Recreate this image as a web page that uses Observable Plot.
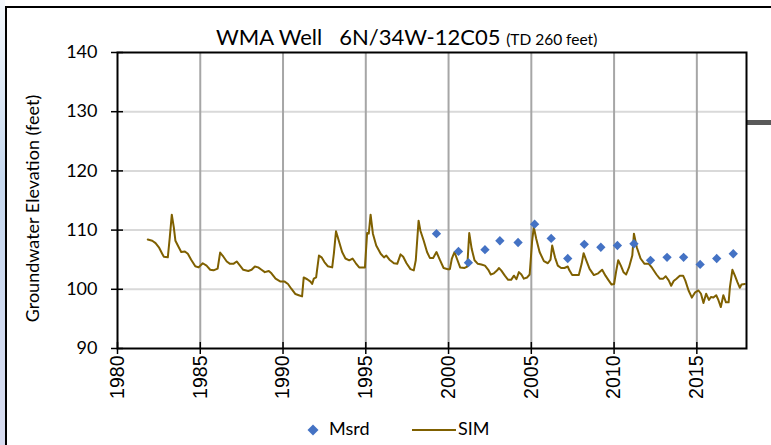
<!DOCTYPE html>
<html>
<head>
<meta charset="utf-8">
<script src="https://cdn.jsdelivr.net/npm/d3@7"></script>
<script src="https://cdn.jsdelivr.net/npm/@observablehq/plot@0.6"></script>
<style>
  body { margin: 0; background: #fff; }
  #wrap { position: relative; width: 771px; height: 445px; overflow: hidden; background: #fff; }
  #strip { position: absolute; left: 0; top: 0; width: 5px; height: 445px;
           background: linear-gradient(#f4f8fc 0%, #c6d8ee 40%, #cfdaf0 70%, #d8dcf0 100%); }
  #vline { position: absolute; left: 5px; top: 6px; width: 2px; height: 439px; background: #000; }
  #hline { position: absolute; left: 5px; top: 6px; width: 766px; height: 2px; background: #000; }
  #gbar  { position: absolute; left: 747px; top: 120px; width: 24px; height: 5px; background: #595959; }
  #chart { position: absolute; left: 0; top: 0; }
  #title { position: absolute; left: 216px; top: 24px; font-family: Lato, "Open Sans", sans-serif;
           font-size: 22px; color: #000; white-space: pre; line-height: 26px; }
  #title span { font-size: 15.5px; }
  #legend { position: absolute; left: 0; top: 418px; width: 771px; height: 20px;
            font-family: Lato, "Open Sans", sans-serif; font-size: 18px; color: #000; }
  #legend .item { position: absolute; top: 0; line-height: 20px; white-space: nowrap; }
  #legend svg { vertical-align: middle; }
</style>
</head>
<body>
<div id="wrap">
  <div id="strip"></div>
  <div id="vline"></div>
  <div id="hline"></div>
  <div id="gbar"></div>
  <div id="chart"></div>
  <div id="title"></div>
  <div id="legend"></div>
</div>
<script>
// ---- data ----
const titleMain = "WMA Well   6N/34W-12C05";
const titleSub = "(TD 260 feet)";
const yLabel = "Groundwater Elevation (feet)";
const xTicks = [1980, 1985, 1990, 1995, 2000, 2005, 2010, 2015];
const yTicks = [90, 100, 110, 120, 130, 140];
const xGrid = [1985, 1990, 1995, 2000, 2005, 2010, 2015];
const yGrid = [100, 110, 120, 130];
const seriesNames = ["Msrd", "SIM"];

const msrdYear = [1999.27, 2000.6, 2001.2, 2002.2, 2003.1, 2004.2, 2005.2, 2006.2, 2007.2, 2008.2,
                  2009.2, 2010.2, 2011.2, 2012.2, 2013.2, 2014.2, 2015.2, 2016.2, 2017.2];
const msrdValue = [109.4, 106.4, 104.5, 106.7, 108.2, 107.9, 111.0, 108.6, 105.2, 107.6,
                   107.1, 107.4, 107.7, 104.9, 105.4, 105.4, 104.2, 105.2, 106.0];

const simYear = [
  1981.83, 1982.1, 1982.3, 1982.5, 1982.7, 1982.8, 1983.04, 1983.16, 1983.28, 1983.4,
  1983.5, 1983.7, 1983.85, 1984.07, 1984.25, 1984.45, 1984.7, 1984.9, 1985.15, 1985.38,
  1985.6, 1985.8, 1986.05, 1986.2, 1986.4, 1986.6, 1986.8, 1987.0, 1987.2, 1987.4,
  1987.6, 1987.9, 1988.1, 1988.3, 1988.5, 1988.7, 1988.9, 1989.14, 1989.3, 1989.55,
  1989.85, 1990.1, 1990.3, 1990.5, 1990.75, 1990.95, 1991.15, 1991.25, 1991.46, 1991.66,
  1991.76, 1991.86, 1992.0, 1992.17, 1992.33, 1992.5, 1992.7, 1992.97, 1993.07, 1993.2,
  1993.37, 1993.57, 1993.77, 1994.0, 1994.2, 1994.4, 1994.6, 1994.95, 1995.08, 1995.18,
  1995.29, 1995.43, 1995.63, 1995.9, 1996.1, 1996.24, 1996.43, 1996.7, 1996.9, 1997.1,
  1997.26, 1997.46, 1997.7, 1997.9, 1998.02, 1998.19, 1998.3, 1998.5, 1998.7, 1998.87,
  1999.07, 1999.27, 1999.47, 1999.7, 1999.96, 2000.08, 2000.2, 2000.36, 2000.5, 2000.7,
  2000.97, 2001.13, 2001.25, 2001.4, 2001.57, 2001.77, 2001.98, 2002.2, 2002.4, 2002.55,
  2002.74, 2002.94, 2003.04, 2003.18, 2003.4, 2003.6, 2003.78, 2003.95, 2004.1, 2004.25,
  2004.4, 2004.55, 2004.75, 2004.9, 2005.05, 2005.15, 2005.3, 2005.5, 2005.76, 2006.0,
  2006.16, 2006.26, 2006.43, 2006.6, 2006.8, 2007.0, 2007.2, 2007.3, 2007.47, 2007.67,
  2007.87, 2008.04, 2008.16, 2008.32, 2008.52, 2008.78, 2009.04, 2009.28, 2009.48, 2009.65,
  2009.85, 2010.0, 2010.13, 2010.25, 2010.41, 2010.57, 2010.73, 2010.9, 2011.1, 2011.2,
  2011.37, 2011.6, 2011.84, 2012.1, 2012.3, 2012.56, 2012.76, 2012.97, 2013.12, 2013.3,
  2013.45, 2013.6, 2013.77, 2013.97, 2014.17, 2014.3, 2014.5, 2014.7, 2014.9, 2015.1,
  2015.25, 2015.4, 2015.56, 2015.73, 2015.85, 2016.0, 2016.17, 2016.3, 2016.45, 2016.6,
  2016.76, 2016.92, 2017.0, 2017.15, 2017.3, 2017.45, 2017.6, 2017.7, 2017.9
];
const simValue = [
  108.4, 108.2, 107.8, 107.1, 106.0, 105.5, 105.4, 108.8, 112.6, 110.5,
  108.2, 107.1, 106.3, 106.4, 106.0, 105.0, 103.9, 103.7, 104.4, 104.0,
  103.3, 103.2, 103.5, 106.2, 105.5, 104.7, 104.3, 104.3, 104.7, 104.0,
  103.3, 103.1, 103.3, 103.85, 103.7, 103.3, 102.9, 103.1, 102.7, 101.8,
  101.3, 101.3, 100.9, 100.1, 99.2, 99.0, 98.8, 102.0, 101.7, 101.3,
  100.9, 101.8, 102.0, 105.7, 105.4, 104.6, 103.9, 103.7, 106.0, 109.8,
  108.2, 106.3, 105.2, 104.9, 105.2, 104.4, 103.7, 103.7, 109.5, 109.4,
  112.6, 109.4, 107.4, 106.0, 105.4, 105.7, 105.0, 104.4, 104.3, 105.9,
  105.5, 104.4, 103.4, 103.2, 104.9, 111.6, 109.9, 108.2, 106.3, 105.3,
  105.3, 106.3, 105.0, 103.6, 103.4, 103.4, 105.2, 106.3, 105.2, 103.7,
  103.6, 103.85, 109.5, 106.8, 104.9, 104.3, 104.2, 104.0, 103.3, 102.5,
  102.7, 103.2, 103.6, 103.2, 102.3, 101.6, 101.6, 102.3, 101.7, 102.9,
  102.5, 101.8, 102.0, 102.5, 108.2, 110.5, 108.5, 106.3, 104.75, 104.4,
  105.0, 107.4, 105.4, 104.0, 103.6, 103.6, 103.85, 103.2, 102.4, 102.4,
  102.4, 104.3, 106.1, 104.9, 103.45, 102.4, 102.7, 103.3, 102.3, 101.6,
  100.8, 100.9, 103.1, 104.9, 104.0, 102.9, 102.5, 103.7, 105.7, 109.4,
  107.1, 105.2, 104.3, 104.3, 103.6, 102.5, 101.8, 101.8, 102.2, 101.5,
  100.6, 101.4, 101.8, 102.3, 102.3, 101.5, 99.8, 98.6, 99.5, 99.8,
  99.25, 97.7, 99.25, 98.2, 98.7, 98.6, 99.0, 98.2, 97.0, 99.0,
  97.8, 97.8, 100.4, 103.3, 102.3, 101.2, 100.25, 100.8, 100.9
];

// ---- tables built from the arrays ----
const sim = simYear.map((x, i) => ({year: x, value: simValue[i]}));
const msrd = msrdYear.map((x, i) => ({year: x, value: msrdValue[i]}));

const simColor = "#7F6000";
const msrdColor = "#4472C4";

document.getElementById("title").innerHTML =
  titleMain + ' <span>' + titleSub + '</span>';

const chart = Plot.plot({
  width: 771,
  height: 445,
  marginLeft: 117,
  marginRight: 25,
  marginTop: 52,
  marginBottom: 97,
  x: {domain: [1980, 2018], axis: null},
  y: {domain: [90, 140], axis: null},
  style: {background: "transparent", color: "#000"},
  marks: [
    Plot.ruleY(yGrid, {stroke: "#d9d9d9", strokeWidth: 2}),
    Plot.ruleX(xGrid, {stroke: "#a6a6a6", strokeWidth: 2}),
    Plot.line(sim, {x: "year", y: "value", stroke: simColor, strokeWidth: 2, curve: "linear"}),
    Plot.dot(msrd, {x: "year", y: "value", symbol: "diamond2", r: 4.2, fill: msrdColor, stroke: "none"}),
    Plot.frame({stroke: "#000", strokeWidth: 2}),
    Plot.ruleX(xTicks, {y1: 90, y2: 90, insetTop: -6, insetBottom: -6, stroke: "#000", strokeWidth: 1.5}),
    Plot.ruleY(yTicks, {x1: 1980, x2: 1980, insetLeft: -6, insetRight: -6, stroke: "#000", strokeWidth: 1.5}),
    Plot.axisY(yTicks, {tickSize: 0, tickPadding: 20, fontSize: 18, fontFamily: "Lato, 'Open Sans', sans-serif", label: null}),
    Plot.axisX(xTicks, {tickSize: 0, tickRotate: -90, textAnchor: "end", lineAnchor: "middle", tickPadding: 7,
                        tickFormat: d => String(d),
                        fontSize: 19.5, fontFamily: "'Liberation Sans', Arial, sans-serif", label: null}),
    Plot.text([yLabel], {text: d => d, frameAnchor: "left", textAnchor: "middle", rotate: -90, dx: -84, dy: 8,
                         fontSize: 18, fontFamily: "Lato, 'Open Sans', sans-serif", fill: "#000"})
  ]
});
document.getElementById("chart").appendChild(chart);

// ---- legend ----
const legend = document.getElementById("legend");
legend.innerHTML =
  '<div class="item" style="left:306px"><svg width="14" height="14" style="margin-right:9px"><path d="M7 1.5 L12.5 7 L7 12.5 L1.5 7 Z" fill="' + msrdColor + '"/></svg>' + seriesNames[0] + '</div>' +
  '<div class="item" style="left:412px"><svg width="44" height="14" style="margin-right:2px"><line x1="0" x2="44" y1="7" y2="7" stroke="' + simColor + '" stroke-width="2"/></svg>' + seriesNames[1] + '</div>';
</script>
</body>
</html>
